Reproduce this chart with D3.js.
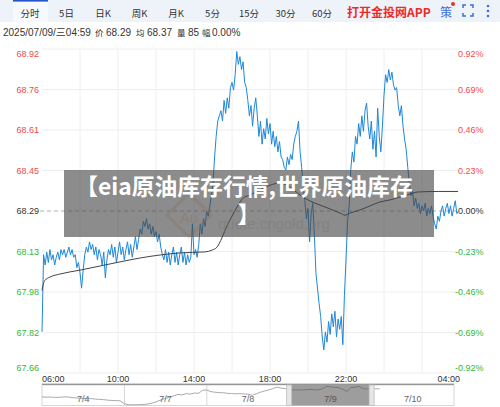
<!DOCTYPE html>
<html><head><meta charset="utf-8">
<script src="https://cdn.jsdelivr.net/npm/d3@7"></script>
<style>
body{margin:0;background:#fff;}
svg{display:block;font-family:"Liberation Sans","Noto Sans CJK SC",sans-serif;}
</style></head>
<body><svg width="500" height="407"></svg>
<script>
// ---- data ----
var tabs = ["分时", "5日", "日K", "周K", "月K", "5分", "15分", "30分", "60分"];
var infoLabels = ["2025/07/09/三04:59", "价", "68.29", "均", "68.37", "量", "85", "幅", "0.00%"];
var prevClose = 68.29;
var priceLabels = ["68.92", "68.76", "68.61", "68.45", "68.29", "68.13", "67.98", "67.82", "67.66"];
var pctLabels = ["0.92%", "0.69%", "0.46%", "0.23%", "0.00%", "-0.23%", "-0.46%", "-0.69%", "-0.92%"];
var timeLabels = ["06:00", "10:00", "14:00", "18:00", "22:00", "04:00"];
var timeLabelMinutes = [0, 240, 480, 720, 960, 1320];

// price every 5 minutes from 06:00
var prices = [
  67.82, 68.12, 68.08, 68.13, 68.09, 68.14, 68.10, 68.12, 68.08, 68.11,
  68.13, 68.10, 68.14, 68.12, 68.14, 68.11, 68.13, 68.15, 68.12, 68.14,
  68.11, 68.12, 68.07, 68.09, 68.05, 67.99, 68.06, 68.12, 68.15, 68.13,
  68.17, 68.14, 68.16, 68.12, 68.15, 68.10, 68.14, 68.12, 68.08, 68.13,
  68.03, 68.10, 68.14, 68.12, 68.16, 68.11, 68.15, 68.09, 68.13, 68.17,
  68.12, 68.15, 68.10, 68.14, 68.17, 68.12, 68.16, 68.11, 68.15, 68.19,
  68.14, 68.18, 68.22, 68.20, 68.25, 68.23, 68.26, 68.22, 68.24, 68.20,
  68.23, 68.19, 68.21, 68.17, 68.20, 68.15, 68.12, 68.10, 68.14, 68.09,
  68.13, 68.08, 68.12, 68.15, 68.09, 68.13, 68.08, 68.12, 68.15, 68.09,
  68.13, 68.08, 68.12, 68.09, 68.11, 68.24, 68.12, 68.14, 68.11, 68.16,
  68.24, 68.20, 68.26, 68.23, 68.29, 68.27, 68.31, 68.35, 68.40, 68.50,
  68.58, 68.64, 68.66, 68.68, 68.64, 68.72, 68.67, 68.73, 68.69, 68.77,
  68.79, 68.76, 68.82, 68.91, 68.86, 68.89, 68.84, 68.87, 68.79, 68.77,
  68.72, 68.66, 68.70, 68.62, 68.69, 68.73, 68.66, 68.58, 68.64, 68.55,
  68.61, 68.57, 68.65, 68.59, 68.63, 68.55, 68.60, 68.54, 68.58, 68.52,
  68.56, 68.50, 68.49, 68.46, 68.45, 68.50, 68.47, 68.51, 68.49, 68.55,
  68.58, 68.60, 68.64, 68.52, 68.46, 68.38, 68.33, 68.26, 68.30, 68.17,
  68.28, 68.32, 68.20, 68.05, 67.99, 67.93, 67.88, 67.80, 67.75, 67.82,
  67.78, 67.86, 67.81, 67.89, 67.84, 67.90, 67.80, 67.87, 67.83, 67.88,
  67.77, 67.96, 68.10, 68.25, 68.31, 68.45, 68.52, 68.48, 68.58, 68.55,
  68.63, 68.58, 68.66, 68.60, 68.68, 68.71, 68.62, 68.57, 68.64, 68.53,
  68.60, 68.50, 68.69, 68.58, 68.52, 68.62, 68.74, 68.82, 68.79, 68.84,
  68.80, 68.83, 68.78, 68.76, 68.77, 68.70, 68.66, 68.70, 68.62, 68.57,
  68.53, 68.46, 68.40, 68.35, 68.37, 68.31, 68.34, 68.30, 68.32, 68.28,
  68.31, 68.29, 68.32, 68.27, 68.30, 68.28, 68.31, 68.27, 68.24, 68.22,
  68.27, 68.25, 68.29, 68.31, 68.27, 68.30, 68.32, 68.28, 68.31, 68.27,
  68.30, 68.33, 68.28, 68.29
];
var stepMinutes = 5;

// average price line
var avgMinutes = [0, 3, 9, 25, 57, 120, 183, 246, 309, 373, 436, 515, 537, 553, 568, 584, 600, 616, 635, 657,
  688, 720, 752, 783, 815, 846, 878, 910, 941, 957, 973, 1004, 1036, 1067, 1099, 1130, 1162, 1187, 1251, 1314];
var avgValues = [67.98, 68.00, 68.02, 68.033, 68.045, 68.06, 68.076, 68.092, 68.107, 68.119, 68.127, 68.131, 68.138,
  68.15, 68.185, 68.232, 68.27, 68.306, 68.34, 68.352, 68.372, 68.39, 68.399, 68.383, 68.352, 68.329, 68.313,
  68.298, 68.282, 68.274, 68.282, 68.294, 68.310, 68.325, 68.333, 68.344, 68.356, 68.364, 68.366, 68.366];

// navigator
var navDays = ["7/4", "7/7", "7/8", "7/9", "7/10"];
var navPerDay = 20;
var navValues = [
  66.85, 66.80, 66.83, 66.78, 66.76, 66.82, 66.88, 66.74, 66.70, 66.62, 66.60, 66.52, 66.55, 66.45, 66.40, 66.35, 66.26, 66.22, 66.18, 66.15,
  65.60, 65.45, 65.42, 65.44, 65.46, 65.50, 65.62, 65.80, 66.05, 66.35, 66.60, 66.82, 67.05, 67.30, 67.20, 67.45, 67.35, 67.55, 67.50, 68.05,
  68.10, 67.80, 67.70, 67.62, 67.60, 67.50, 67.45, 67.40, 67.45, 67.38, 67.35, 67.15, 67.40, 67.70, 67.90, 68.10, 68.35, 68.60, 68.45, 68.35,
  68.13, 68.12, 68.10, 68.12, 68.13, 68.22, 68.12, 68.12, 68.30, 68.75, 68.68, 68.58, 68.55, 68.20, 67.85, 68.55, 68.60, 68.75, 68.32, 68.28,
  68.40, 68.30, 68.32
];
var selectedDay = 3;

var title = ["【eia原油库存行情,世界原油库存", "】"];

// ---- setup ----
var svg = d3.select("svg");
var plotLeft = 42, plotRight = 460, plotTop = 49, plotBottom = 373;
var yMin = 67.66, yMax = 68.92;

var x = d3.scaleLinear().domain([0, 1320]).range([plotLeft, plotRight]);
var y = d3.scaleLinear().domain([yMin, yMax]).range([plotBottom, plotTop]);
var gridVals = d3.range(9).map(function (i) { return yMax - i * (yMax - yMin) / 8; });

// tab bar
svg.append("rect").attr("x", 0).attr("y", 0).attr("width", 500).attr("height", 22).attr("fill", "#eef3fa");
svg.append("rect").attr("x", 13).attr("y", 0).attr("width", 35).attr("height", 22).attr("fill", "#f6f9fd");
svg.append("rect").attr("x", 13).attr("y", 0).attr("width", 35).attr("height", 1.6).attr("fill", "#2457c5");
var tabX = d3.scalePoint().domain(tabs).range([30, 322]);
svg.selectAll(".tab").data(tabs).enter().append("text")
    .attr("x", function (d) { return tabX(d); })
    .attr("y", 17)
    .attr("text-anchor", "middle")
    .attr("font-family", "Noto Sans CJK SC")
    .attr("font-size", 9.5)
    .attr("fill", "#333")
    .text(function (d) { return d; });

svg.append("text").attr("x", 347).attr("y", 17)
    .attr("font-family", "Noto Sans CJK SC").attr("font-weight", "bold")
    .attr("font-size", 12).attr("fill", "#ee2a24").text("打开金投网APP");
svg.append("text").attr("x", 440).attr("y", 16.5)
    .attr("font-family", "Noto Sans CJK SC").attr("font-size", 12).attr("fill", "#3b6fd6").text("策");
svg.append("circle").attr("cx", 453).attr("cy", 4).attr("r", 2).attr("fill", "#e8302a");
svg.append("path").attr("d", "M463,8V5H466M470,5H473V8M473,13V16H470M466,16H463V13")
    .attr("fill", "none").attr("stroke", "#3b6fd6").attr("stroke-width", 1.5);
[6, 11, 16].forEach(function (cy) {
  svg.append("circle").attr("cx", 488).attr("cy", cy).attr("r", 1.3).attr("fill", "#3b6fd6");
});

// info line
var infoX = [3, 95, 106, 136, 147, 177, 188, 202, 212];
svg.selectAll(".info").data(infoLabels).enter().append("text")
    .attr("x", function (d, i) { return infoX[i]; })
    .attr("y", 36)
    .attr("font-size", function (d, i) { return i % 2 === 1 ? 8.5 : 10; })
    .attr("fill", "#333")
    .text(function (d) { return d; });

// grid
svg.selectAll(".hgrid").data(gridVals.filter(function (d, i) { return i !== 4; })).enter().append("line")
    .attr("x1", plotLeft).attr("x2", plotRight)
    .attr("y1", function (d) { return y(d); }).attr("y2", function (d) { return y(d); })
    .attr("stroke", "#eeeeee");
svg.selectAll(".vgrid").data(d3.range(120, 1320, 120)).enter().append("line")
    .attr("x1", function (d) { return x(d); }).attr("x2", function (d) { return x(d); })
    .attr("y1", plotTop).attr("y2", plotBottom)
    .attr("stroke", "#eeeeee");
svg.append("line").attr("x1", plotLeft - 2).attr("x2", 457)
    .attr("y1", y(prevClose)).attr("y2", y(prevClose))
    .attr("stroke", "#b0b0b0").attr("stroke-dasharray", "4,3");

// y labels
function labelColor(i) { return i < 4 ? "#f24a4a" : (i === 4 ? "#333" : "#32b932"); }
function labelY(i) { var v = y(gridVals[i]); return i === 0 ? v + 8 : (i === 8 ? v - 2 : v + 3.2); }
svg.selectAll(".ylab").data(priceLabels).enter().append("text")
    .attr("x", 39).attr("y", function (d, i) { return labelY(i); })
    .attr("text-anchor", "end").attr("font-size", 9)
    .attr("fill", function (d, i) { return labelColor(i); })
    .text(function (d) { return d; });
svg.selectAll(".plab").data(pctLabels).enter().append("text")
    .attr("x", function (d) { return d[0] === "-" ? 455 : 458; })
    .attr("y", function (d, i) { return labelY(i); })
    .attr("font-size", 9)
    .attr("fill", function (d, i) { return labelColor(i); })
    .text(function (d) { return d; });

// price line + average line
var line = d3.line()
    .x(function (d, i) { return x(i * stepMinutes); })
    .y(function (d) { return y(d); });
svg.append("path").datum(prices).attr("d", line)
    .attr("fill", "none").attr("stroke", "#1e87d8").attr("stroke-width", 1);

var avgLine = d3.line().curve(d3.curveMonotoneX)
    .x(function (d, i) { return x(avgMinutes[i]); })
    .y(function (d) { return y(d); });
svg.append("path").datum(avgValues).attr("d", avgLine)
    .attr("fill", "none").attr("stroke", "#444").attr("stroke-width", 1);

// watermark (faint, under the title box)
svg.append("path").attr("d", "M189,193L211,215L189,237L167,215Z")
    .attr("fill", "none").attr("stroke", "#e8a58a").attr("stroke-width", 3).attr("opacity", 0.3);
svg.append("text").attr("x", 189).attr("y", 223).attr("text-anchor", "middle")
    .attr("font-size", 15).attr("fill", "#e8a58a").attr("opacity", 0.3).text("Au");
svg.append("text").attr("x", 218).attr("y", 229)
    .attr("font-size", 15).attr("fill", "#cccccc").attr("opacity", 0.5).text("quote.cngold.org");

// title overlay
svg.append("rect").attr("x", 64).attr("y", 170).attr("width", 370).attr("height", 67)
    .attr("fill", "rgb(70,70,70)").attr("opacity", 0.62);
svg.selectAll(".title").data(title).enter().append("text")
    .attr("x", function (d, i) { return i === 0 ? 244 : 249; })
    .attr("y", function (d, i) { return 194.5 + i * 28.5; })
    .attr("text-anchor", "middle")
    .attr("font-family", "Noto Sans CJK SC").attr("font-weight", "bold")
    .attr("font-size", 22.8).attr("fill", "#fff")
    .text(function (d) { return d; });

// x labels + axis line
svg.selectAll(".xlab").data(timeLabels).enter().append("text")
    .attr("x", function (d, i) { return x(timeLabelMinutes[i]); })
    .attr("y", 382)
    .attr("text-anchor", function (d, i) { return i === 0 ? "start" : (i === timeLabels.length - 1 ? "end" : "middle"); })
    .attr("font-size", 9).attr("fill", "#333")
    .text(function (d) { return d; });
svg.append("line").attr("x1", plotLeft).attr("x2", 454).attr("y1", 384.5).attr("y2", 384.5)
    .attr("stroke", "#555").attr("stroke-width", 1.6);

// navigator
var navX = d3.scaleLinear().domain([0, navDays.length * navPerDay]).range([plotLeft, 454]);
var navY = d3.scaleLinear().domain([65.3, 69.0]).range([405.5, 385]);
var selX0 = navX(selectedDay * navPerDay), selX1 = navX((selectedDay + 1) * navPerDay);
svg.append("rect").attr("x", plotLeft).attr("y", 385).attr("width", 454 - plotLeft).attr("height", 20.5)
    .attr("fill", "#fff").attr("stroke", "#d6d6d6");
svg.selectAll(".navsep").data(d3.range(1, navDays.length)).enter().append("line")
    .attr("x1", function (d) { return navX(d * navPerDay); }).attr("x2", function (d) { return navX(d * navPerDay); })
    .attr("y1", 385).attr("y2", 405.5).attr("stroke", "#d6d6d6");
svg.append("rect").attr("x", selX0).attr("y", 385)
    .attr("width", selX1 - selX0).attr("height", 20.5)
    .attr("fill", "#9d9d9d");
svg.append("clipPath").attr("id", "selclip").append("rect")
    .attr("x", selX0).attr("y", 380).attr("width", selX1 - selX0).attr("height", 30);
var navLine = d3.line().x(function (d, i) { return navX(i); }).y(function (d) { return navY(d); });
svg.append("path").datum(navValues).attr("d", navLine)
    .attr("fill", "none").attr("stroke", "#aaa").attr("stroke-width", 1);
svg.append("path").datum(navValues).attr("d", navLine).attr("clip-path", "url(#selclip)")
    .attr("fill", "none").attr("stroke", "#737373").attr("stroke-width", 1);
svg.selectAll(".navlab").data(navDays).enter().append("text")
    .attr("x", function (d, i) { return navX(i * navPerDay + navPerDay / 2); })
    .attr("y", 402).attr("text-anchor", "middle")
    .attr("font-size", 9).attr("fill", function (d, i) { return i === selectedDay ? "#555" : "#666"; })
    .text(function (d) { return d; });
[selectedDay, selectedDay + 1].forEach(function (d) {
  svg.append("rect").attr("x", navX(d * navPerDay) - 2.5).attr("y", 385)
      .attr("width", 5).attr("height", 20.5)
      .attr("fill", "#e6e6e6").attr("stroke", "#bdbdbd").attr("stroke-width", 0.8);
});
</script>
</body></html>
